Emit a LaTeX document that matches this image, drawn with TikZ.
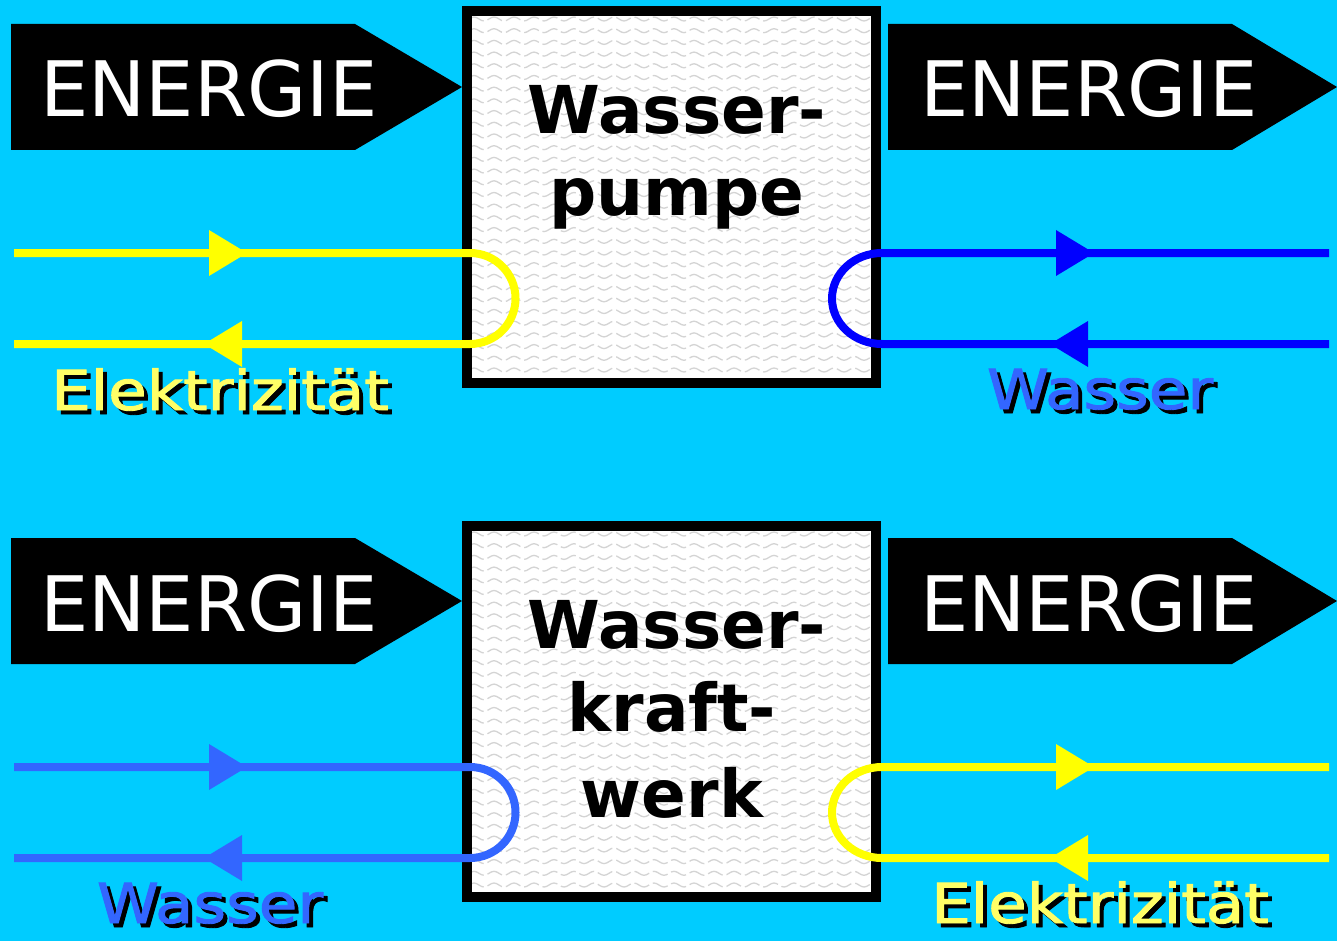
\documentclass[tikz,border=0pt]{standalone}
\usepackage{fontspec}
\usepackage{graphicx}
\newfontfamily\dv{DejaVu Sans}
\newfontfamily\dvlbl[FakeBold=1.6]{DejaVu Sans}
\definecolor{bgc}{HTML}{00CCFF}
\definecolor{yel}{HTML}{FFFF00}
\definecolor{blu}{HTML}{0000FF}
\definecolor{lblu}{HTML}{3366FF}
\definecolor{lyel}{HTML}{FFFF66}
\definecolor{wav}{HTML}{D4D4D4}
\tikzset{
  energyshape/.style={fill=black},
  energytext/.style={text=white, font={\dv\fontsize{76.5}{90}\selectfont}, anchor=base west, inner sep=0pt},
  boxtext/.style={text=black, font={\dv\bfseries\fontsize{66}{80}\selectfont}, anchor=base, inner sep=0pt},
  boxframe/.style={draw=black, line width=10pt, fill=white, inner sep=0pt, outer sep=0pt},
  flow/.style={line width=8pt},
  lbl/.style={font={\dvlbl\fontsize{55}{66}\selectfont}, anchor=base, inner sep=0pt},
  wave/.style={draw=wav, line width=1.3pt, dash pattern=on 16pt off 4pt},
}
\newcommand\flowtipR[3]{\fill[#1] (#2,#3-23) -- (#2+38,#3) -- (#2,#3+23) -- cycle;}
\newcommand\flowtipL[3]{\fill[#1] (#2,#3-23) -- (#2-38,#3) -- (#2,#3+23) -- cycle;}
\newcommand\shadowlabel[5]{%
  \node[lbl, text=#4] (#1) at (#2,#3) {\scalebox{1.14}[1]{\rlap{\hspace{3.5pt}\raisebox{-4pt}{\color{black}#5}}#5}};
}
\newcommand\wavefill[4]{%
  \begin{scope}
    \clip (#1,#2) rectangle (#3,#4);
    \foreach \rr in {0,...,32} {
      \draw[wave] (#1-3,#2+3+\rr*11.7) foreach \kk in {1,...,21} { sin ++(5,-2) cos ++(5,2) sin ++(5,2) cos ++(5,-2) };
    }
  \end{scope}
}
\begin{document}
\begin{tikzpicture}[x=1pt,y=-1pt]
\useasboundingbox (0,0) rectangle (1337,941);
\fill[bgc] (0,0) rectangle (1337,941);

% ---------------- top row: Wasserpumpe ----------------
\fill[energyshape] (11,24) -- (355,24) -- (462,87) -- (355,150) -- (11,150) -- cycle;
\node[energytext] (e1) at (40,117) {ENERGIE};
\fill[energyshape] (888,24) -- (1232,24) -- (1337,87) -- (1232,150) -- (888,150) -- cycle;
\node[energytext] (e2) at (920,117) {ENERGIE};

\node[boxframe, minimum width=409, minimum height=372] (pump) at (671.5,197) {};
\wavefill{472}{16}{871}{378}
\node[boxtext] (p1) at (677,134) {Wasser-};
\node[boxtext] (p2) at (677,215) {pumpe};

\coordinate (yA) at (14,253);
\coordinate (yB) at (470,253);
\coordinate (yD) at (14,344);
\draw[flow, yel] (yA) -- (yB) arc[start angle=-90, end angle=90, radius=45.5] -- (yD);
\flowtipR{yel}{209}{253}
\flowtipL{yel}{242}{344}

\coordinate (bA) at (1329,253);
\coordinate (bB) at (882,253);
\coordinate (bD) at (1329,344);
\draw[flow, blu] (bA) -- (bB) arc[start angle=-90, end angle=-270, x radius=50, y radius=45.5] -- (bD);
\flowtipR{blu}{1056}{253}
\flowtipL{blu}{1088}{344}

\shadowlabel{l1}{220}{410}{lyel}{Elektrizität}
\shadowlabel{l2}{1100}{409}{lblu}{Wasser}

% ---------------- bottom row: Wasserkraftwerk ----------------
\fill[energyshape] (11,538) -- (355,538) -- (462,601) -- (355,664) -- (11,664) -- cycle;
\node[energytext] (e3) at (40,631) {ENERGIE};
\fill[energyshape] (888,538) -- (1232,538) -- (1337,601) -- (1232,664) -- (888,664) -- cycle;
\node[energytext] (e4) at (920,631) {ENERGIE};

\node[boxframe, minimum width=409, minimum height=371] (kraft) at (671.5,711.5) {};
\wavefill{472}{531}{871}{892}
\node[boxtext] (k1) at (677,648) {Wasser-};
\node[boxtext] (k2) at (672,731) {kraft-};
\node[boxtext] (k3) at (672,817) {werk};

\coordinate (wA) at (14,767);
\coordinate (wB) at (470,767);
\coordinate (wD) at (14,858);
\draw[flow, lblu] (wA) -- (wB) arc[start angle=-90, end angle=90, radius=45.5] -- (wD);
\flowtipR{lblu}{209}{767}
\flowtipL{lblu}{242}{858}

\coordinate (eA) at (1329,767);
\coordinate (eB) at (882,767);
\coordinate (eD) at (1329,858);
\draw[flow, yel] (eA) -- (eB) arc[start angle=-90, end angle=-270, x radius=50, y radius=45.5] -- (eD);
\flowtipR{yel}{1056}{767}
\flowtipL{yel}{1088}{858}

\shadowlabel{l3}{210}{923}{lblu}{Wasser}
\shadowlabel{l4}{1100}{923}{lyel}{Elektrizität}
\end{tikzpicture}
\end{document}
